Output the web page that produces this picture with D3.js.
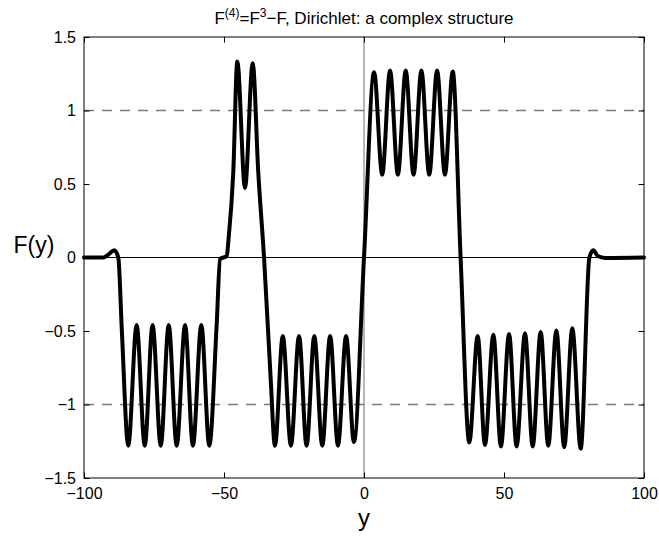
<!DOCTYPE html>
<html>
<head>
<meta charset="utf-8">
<script src="https://cdn.jsdelivr.net/npm/d3@7"></script>
<style>
  html, body { margin: 0; padding: 0; background: #fff; }
  svg { display: block; }
  text { font-family: "Liberation Sans", Arial, Helvetica, sans-serif; fill: #000; }
</style>
</head>
<body>
<div id="chart"></div>
<script>
// ---- data ----
const yPositions = [
  -100, -93.2, -91.3, -89.2, -87.75, -86.5, -84.2,
  -81.2, -78.3, -75.5, -72.6, -69.75, -66.9, -63.9, -61.1, -58.1, -55.25,
  -52.6, -51.4, -49.0, -48.4, -46.7, -45.25, -42.5, -39.75, -37.75, -35.7, -33.4,
  -31.8, -29.0, -26.1, -23.2, -20.5, -17.75, -14.9, -12.1, -9.3, -6.4, -3.6,
  0.0, 3.6, 6.5, 9.3, 12.1, 14.9, 17.7, 20.5, 23.3, 26.1, 28.9, 31.7, 34.5,
  37.6, 40.6, 43.2, 46.2, 48.9, 51.8, 54.5, 57.5, 60.25, 63.1, 65.8, 68.7, 71.5, 74.4, 77.4,
  80.5, 81.9, 83.5, 86.1, 100
];
const fValues = [
  0, 0, 0.02, 0.05, 0, -0.49, -1.28,
  -0.46, -1.28, -0.46, -1.28, -0.46, -1.28, -0.46, -1.28, -0.46, -1.28,
  -0.45, -0.01, 0.01, 0.12, 0.575, 1.333, 0.473, 1.322, 0.575, 0, -0.80,
  -1.28, -0.534, -1.28, -0.534, -1.28, -0.534, -1.28, -0.534, -1.28, -0.534, -1.255,
  0, 1.261, 0.563, 1.272, 0.563, 1.272, 0.563, 1.272, 0.563, 1.272, 0.563, 1.265, 0,
  -1.258, -0.534, -1.276, -0.525, -1.285, -0.52, -1.285, -0.516, -1.285, -0.507, -1.28, -0.496, -1.29, -0.482, -1.30,
  0, 0.05, 0.01, -0.003, 0
];
const xTicks = [-100, -50, 0, 50, 100];
const yTicks = [-1.5, -1, -0.5, 0, 0.5, 1, 1.5];
const dashedLevels = [-1, 1];
const xDomain = [-100, 100];
const yDomain = [-1.5, 1.5];

// ---- layout ----
const W = 659, H = 540;
const margin = { left: 84, right: 15, top: 37, bottom: 62 };
const iw = W - margin.left - margin.right;
const ih = H - margin.top - margin.bottom;

const svg = d3.select("#chart").append("svg")
  .attr("width", W).attr("height", H);

const g = svg.append("g").attr("transform", `translate(${margin.left},${margin.top})`);

const x = d3.scaleLinear().domain(xDomain).range([0, iw]);
const y = d3.scaleLinear().domain(yDomain).range([ih, 0]);

const fmt = d => d3.format("")(d).replace("-", "\u2212");

// reference lines
g.selectAll(".dash").data(dashedLevels).enter().append("line")
  .attr("x1", 0).attr("x2", iw)
  .attr("y1", d => y(d)).attr("y2", d => y(d))
  .attr("stroke", "#7a7a7a").attr("stroke-width", 1.3)
  .attr("stroke-dasharray", "10,8");

g.append("line")
  .attr("x1", x(0)).attr("x2", x(0)).attr("y1", 0).attr("y2", ih)
  .attr("stroke", "#6e6e6e").attr("stroke-width", 1);

g.append("line")
  .attr("x1", 0).attr("x2", iw).attr("y1", y(0)).attr("y2", y(0))
  .attr("stroke", "#000").attr("stroke-width", 1);

// curve
const pts = yPositions.map((v, i) => [v, fValues[i]]);
const line = d3.line()
  .x(d => x(d[0])).y(d => y(d[1]))
  .curve(d3.curveMonotoneX);

g.append("path").datum(pts)
  .attr("d", line)
  .attr("fill", "none").attr("stroke", "#000")
  .attr("stroke-width", 4).attr("stroke-linejoin", "round").attr("stroke-linecap", "round");

// axes
const tl = 5.5;
const axB = g.append("g").attr("transform", `translate(0,${ih})`)
  .call(d3.axisBottom(x).tickValues(xTicks).tickSize(-tl).tickPadding(10).tickFormat(fmt));
const axL = g.append("g")
  .call(d3.axisLeft(y).tickValues(yTicks).tickSize(-tl).tickPadding(8).tickFormat(fmt));
const axT = g.append("g")
  .call(d3.axisTop(x).tickValues(xTicks).tickSize(-tl).tickFormat(""));
const axR = g.append("g").attr("transform", `translate(${iw},0)`)
  .call(d3.axisRight(y).tickValues(yTicks).tickSize(-tl).tickFormat(""));

[axB, axL, axT, axR].forEach(a => {
  a.select(".domain").remove();
  a.selectAll(".tick line").attr("stroke", "#000").attr("stroke-width", 1);
  a.selectAll("text").attr("font-size", 16).attr("font-family", "'Liberation Sans', Arial, sans-serif").attr("fill", "#000");
});

// frame
g.append("rect").attr("x", 0).attr("y", 0).attr("width", iw).attr("height", ih)
  .attr("fill", "none").attr("stroke", "#000").attr("stroke-width", 1);

// labels
svg.append("text")
  .attr("x", margin.left + iw / 2).attr("y", 526)
  .attr("text-anchor", "middle").attr("font-size", 24).text("y");

svg.append("text")
  .attr("x", 34).attr("y", 253)
  .attr("text-anchor", "middle").attr("font-size", 23).text("F(y)");

const title = svg.append("text")
  .attr("x", margin.left + iw / 2).attr("y", 24)
  .attr("text-anchor", "middle").attr("font-size", 17);
title.append("tspan").text("F");
title.append("tspan").attr("font-size", 12).attr("dy", -7).text("(4)");
title.append("tspan").attr("dy", 7).text("=F");
title.append("tspan").attr("font-size", 12).attr("dy", -7).text("3");
title.append("tspan").attr("dy", 7).text("\u2212F, Dirichlet: a complex structure");
</script>
</body>
</html>
